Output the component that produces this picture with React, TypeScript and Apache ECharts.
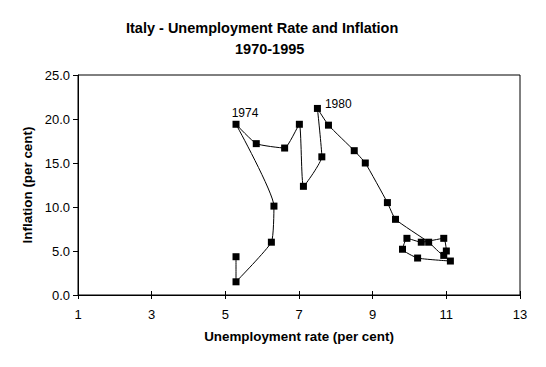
import React, { useEffect, useRef } from "react";
import * as echarts from "echarts";

const years = [1970, 1971, 1972, 1973, 1974, 1975, 1976, 1977, 1978, 1979, 1980, 1981, 1982, 1983, 1984, 1985, 1986, 1987, 1988, 1989, 1990, 1991, 1992, 1993, 1994];
const unemployment = [5.29, 5.29, 6.25, 6.32, 5.29, 5.84, 6.61, 7.01, 7.12, 7.62, 7.5, 7.8, 8.5, 8.8, 9.4, 9.62, 10.52, 10.93, 11.0, 10.93, 10.32, 9.93, 9.81, 10.22, 11.11];
const inflation = [4.35, 1.5, 6.0, 10.1, 19.4, 17.2, 16.7, 19.4, 12.35, 15.7, 21.2, 19.3, 16.4, 15.0, 10.5, 8.6, 6.0, 4.5, 5.0, 6.44, 6.0, 6.44, 5.2, 4.2, 3.86];
const labelledYears = [1974, 1980];
const xTicks = [1, 3, 5, 7, 9, 11, 13];
const yTicks = [0, 5, 10, 15, 20, 25];

const FONT = "'Liberation Sans', Arial, sans-serif";

export default function App() {
  const ref = useRef<HTMLDivElement>(null);
  useEffect(() => {
    document.body.style.margin = "0";
    const chart = echarts.init(ref.current!, null, { renderer: "svg" });
    const data = years.map((y, i) => {
      const item: any = { value: [unemployment[i], inflation[i]], name: String(y) };
      if (labelledYears.includes(y)) {
        item.label =
          y === 1974
            ? { show: true, position: "top", distance: 2, offset: [9, 0], formatter: String(y) }
            : { show: true, position: "right", distance: 4, offset: [0, -4], formatter: String(y) };
      }
      return item;
    });
    const axisCommon = {
      type: "value" as const,
      axisLine: { show: true, onZero: false, lineStyle: { color: "#000", width: 1 } },
      splitLine: { show: false },
    };
    const nameStyle = { fontSize: 13.4, fontWeight: "bold", color: "#000", fontFamily: FONT };
    chart.setOption({
      animation: false,
      backgroundColor: "#fff",
      textStyle: { fontFamily: FONT },
      title: [
        {
          text: "Italy - Unemployment Rate and Inflation",
          left: 126,
          top: 20,
          padding: 0,
          textStyle: { fontSize: 14.5, fontWeight: "bold", color: "#000", fontFamily: FONT },
        },
        {
          text: "1970-1995",
          left: 235,
          top: 41,
          padding: 0,
          textStyle: { fontSize: 14.5, fontWeight: "bold", color: "#000", fontFamily: FONT },
        },
      ],
      grid: {
        left: 78,
        right: 26,
        top: 75,
        bottom: 72,
        show: true,
        borderColor: "#000",
        borderWidth: 1,
        backgroundColor: "transparent",
      },
      xAxis: [
        {
          ...axisCommon,
          min: xTicks[0],
          max: xTicks[xTicks.length - 1],
          interval: 2,
          name: "Unemployment rate (per cent)",
          nameLocation: "middle",
          nameGap: 35,
          nameTextStyle: nameStyle,
          axisTick: { show: true, length: 4, lineStyle: { color: "#000" } },
          axisLabel: { fontSize: 13, color: "#000", margin: 13, fontFamily: FONT },
        },
        {
          ...axisCommon,
          min: xTicks[0],
          max: xTicks[xTicks.length - 1],
          interval: 2,
          position: "bottom",
          axisTick: { show: true, inside: true, length: 4, lineStyle: { color: "#000" } },
          axisLabel: { show: false },
        },
      ],
      yAxis: {
        ...axisCommon,
        min: yTicks[0],
        max: yTicks[yTicks.length - 1],
        interval: 5,
        name: "Inflation (per cent)",
        nameLocation: "middle",
        nameGap: 38,
        nameTextStyle: nameStyle,
        axisTick: { show: true, length: 5, lineStyle: { color: "#000" } },
        axisLabel: {
          fontSize: 13,
          color: "#000",
          margin: 8,
          fontFamily: FONT,
          formatter: (v: number) => v.toFixed(1),
        },
      },
      series: [
        {
          type: "line",
          data,
          smooth: 0.15,
          symbol: "rect",
          symbolSize: 7,
          itemStyle: { color: "#000" },
          lineStyle: { color: "#000", width: 1 },
          label: { color: "#000", fontSize: 12, fontFamily: FONT },
          xAxisIndex: 0,
          yAxisIndex: 0,
        },
      ],
    });
    return () => chart.dispose();
  }, []);
  return <div ref={ref} style={{ width: 546, height: 367 }} />;
}
